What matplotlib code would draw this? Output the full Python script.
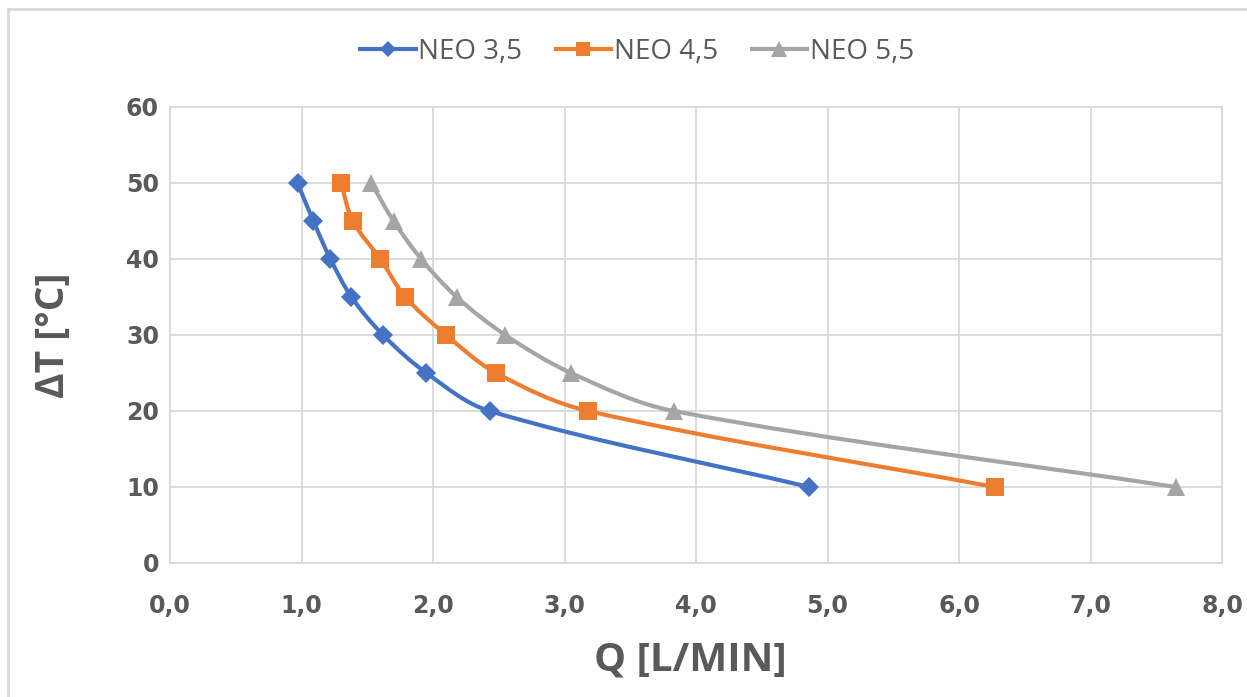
import matplotlib

matplotlib.use("Agg")

import matplotlib.pyplot as plt
from matplotlib.lines import Line2D
from matplotlib.patches import PathPatch
from matplotlib.path import Path
import numpy as np

# data
delta_t = [50, 45, 40, 35, 30, 25, 20, 10]
q_neo35 = [0.97, 1.09, 1.22, 1.38, 1.62, 1.95, 2.43, 4.86]
q_neo45 = [1.30, 1.39, 1.60, 1.79, 2.10, 2.48, 3.18, 6.27]
q_neo55 = [1.53, 1.70, 1.91, 2.18, 2.55, 3.05, 3.83, 7.65]
series_names = ["NEO 3,5", "NEO 4,5", "NEO 5,5"]

x_ticks = [0, 1, 2, 3, 4, 5, 6, 7, 8]
x_tick_labels = ["0,0", "1,0", "2,0", "3,0", "4,0", "5,0", "6,0", "7,0", "8,0"]
y_ticks = [0, 10, 20, 30, 40, 50, 60]

COLORS = ["#4472C4", "#ED7D31", "#A5A5A5"]
MARKERS = [("D", 10), ("s", 12.5), ("^", 13)]
GRID = "#D9D9D9"
TEXT = "#595959"


def smooth_path(ax, xs, ys):
    # Excel-like smoothed line: cubic Bezier through every point, tangents
    # built in screen space so they follow the visible shape
    to_px = ax.transData
    pts = to_px.transform(np.column_stack([xs, ys]).astype(float))
    n = len(pts)
    tang = np.zeros_like(pts)
    for i in range(n):
        a = pts[max(i - 1, 0)]
        b = pts[min(i + 1, n - 1)]
        d = b - a
        tang[i] = d / np.hypot(*d)
    verts = [pts[0]]
    codes = [Path.MOVETO]
    for i in range(n - 1):
        seg = np.hypot(*(pts[i + 1] - pts[i]))
        c1 = pts[i] + tang[i] * seg / 3.0
        c2 = pts[i + 1] - tang[i + 1] * seg / 3.0
        verts += [c1, c2, pts[i + 1]]
        codes += [Path.CURVE4] * 3
    verts = to_px.inverted().transform(np.array(verts))
    return Path(verts, codes)


fig = plt.figure(figsize=(12.47, 6.97), dpi=100)
ax = fig.add_axes([170 / 1247, 1 - 563 / 697, 1052 / 1247, 456 / 697])
ax.set_xlim(0, 8)
ax.set_ylim(0, 60)

handles = []
for q, name, color, (mk, ms) in zip(
    [q_neo35, q_neo45, q_neo55], series_names, COLORS, MARKERS
):
    patch = PathPatch(
        smooth_path(ax, q, delta_t),
        facecolor="none",
        edgecolor=color,
        linewidth=3,
        capstyle="round",
        joinstyle="round",
        zorder=3,
    )
    ax.add_patch(patch)
    ax.plot(q, delta_t, linestyle="none", marker=mk, markersize=ms,
            color=color, markeredgewidth=0, zorder=4)
    handles.append(Line2D([], [], color=color, linewidth=3, marker=mk,
                          markersize=ms * 0.85, markeredgewidth=0, label=name))

ax.set_xticks(x_ticks)
ax.set_xticklabels(x_tick_labels)
ax.set_yticks(y_ticks)
ax.grid(True, color=GRID, linewidth=1.3)
ax.set_axisbelow(True)
for sp in ax.spines.values():
    sp.set_color(GRID)
    sp.set_linewidth(1.3)
ax.tick_params(length=0, labelcolor=TEXT)
ax.tick_params(axis="x", pad=22)
ax.tick_params(axis="y", pad=8)
for lab in ax.get_xticklabels() + ax.get_yticklabels():
    lab.set_fontfamily("DejaVu Sans")
    lab.set_fontweight("bold")
    lab.set_fontsize(17)

ax.set_xlabel("Q [L/MIN]", fontfamily="Open Sans", fontweight="bold",
              fontsize=29, color=TEXT)
ax.xaxis.set_label_coords(0.495, -0.213)
ax.xaxis.label.set_va("center")
ax.set_ylabel("ΔT [°C]", fontfamily="Open Sans", fontweight="bold",
              fontsize=28, color=TEXT)
ax.yaxis.set_label_coords((53 - 170) / 1052, 0.5)
ax.yaxis.label.set_va("center")

fig.legend(
    handles=handles,
    loc="center",
    bbox_to_anchor=(637 / 1247, 1 - 52 / 697),
    ncol=3,
    frameon=False,
    prop={"family": "Open Sans", "size": 20},
    labelcolor=TEXT,
    handlelength=2.0,
    handletextpad=0.1,
    columnspacing=1.2,
)

# outer chart frame (cut off at right and bottom)
fig.add_artist(Line2D([8 / 1247, 8 / 1247], [0, 1 - 9 / 697],
                      transform=fig.transFigure, color=GRID, linewidth=2))
fig.add_artist(Line2D([8 / 1247, 1], [1 - 9 / 697, 1 - 9 / 697],
                      transform=fig.transFigure, color=GRID, linewidth=2))

fig.savefig("out.png", dpi=100)
